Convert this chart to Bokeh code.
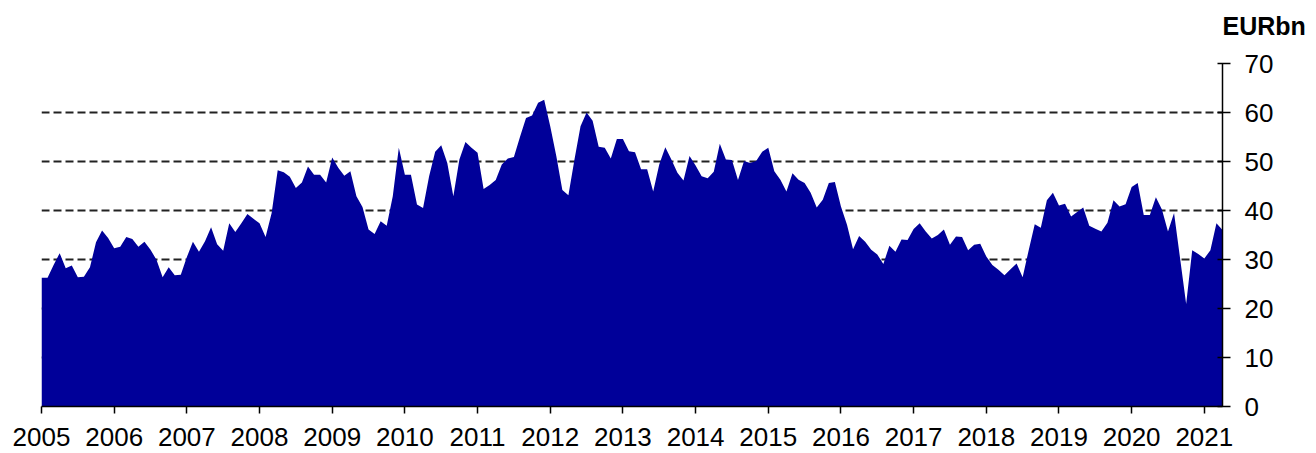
from bokeh.plotting import figure
from bokeh.models import Range1d, FixedTicker, Title
from bokeh.embed import file_html
from bokeh.resources import INLINE

# Monthly values, EUR bn, Jan 2005 - Apr 2021
vals_2005_2007 = [26.3, 26.3, 28.9, 31.3, 28.2, 28.8, 26.4, 26.5, 28.4, 33.5, 35.9, 34.4,
                  32.3, 32.6, 34.6, 34.2, 32.6, 33.6, 32.0, 29.9, 26.4, 28.4, 26.8, 26.9,
                  30.5, 33.6, 31.6, 33.7, 36.6, 33.1, 31.8, 37.4, 35.6, 37.4, 39.3, 38.3]
vals_2008_2010 = [37.4, 34.6, 39.5, 48.2, 47.8, 46.9, 44.6, 45.7, 49.0, 47.3, 47.3, 45.7,
                  50.8, 48.7, 47.1, 48.0, 42.9, 40.7, 36.1, 35.2, 37.8, 36.9, 42.9, 52.8,
                  47.3, 47.3, 41.2, 40.5, 47.0, 52.0, 53.3, 49.7, 42.9, 50.4, 54.0, 52.8]
vals_2011_2013 = [51.8, 44.4, 45.2, 46.2, 49.4, 50.6, 50.9, 55.0, 58.9, 59.4, 62.0, 62.6,
                  57.2, 51.1, 44.2, 43.1, 50.4, 57.2, 60.0, 58.3, 53.0, 52.8, 50.6, 54.6,
                  54.6, 52.1, 51.9, 48.4, 48.4, 43.9, 49.4, 52.9, 50.4, 47.7, 46.1, 51.1]
vals_2014_2016 = [49.2, 47.0, 46.6, 47.9, 53.6, 50.4, 50.3, 46.2, 50.1, 49.7, 50.1, 52.0,
                  52.8, 48.0, 46.3, 43.9, 47.6, 46.3, 45.6, 43.6, 40.6, 42.2, 45.6, 45.8,
                  40.8, 37.1, 32.1, 34.8, 33.6, 32.0, 31.0, 29.1, 32.8, 31.6, 34.1, 34.0]
vals_2017_2019 = [36.2, 37.4, 35.7, 34.3, 35.0, 36.1, 33.0, 34.7, 34.6, 31.9, 33.0, 33.2,
                  30.6, 28.9, 27.9, 26.8, 28.0, 29.2, 26.4, 31.9, 37.2, 36.5, 42.1, 43.6,
                  41.0, 41.4, 38.8, 39.7, 40.6, 36.9, 36.3, 35.7, 37.5, 42.1, 40.8, 41.3]
vals_2020_2021 = [44.8, 45.6, 39.1, 39.1, 42.7, 40.2, 35.7, 39.5, 30.2, 20.9, 31.9, 31.1,
                  30.2, 31.9, 37.4, 36.0]

values = vals_2005_2007 + vals_2008_2010 + vals_2011_2013 + vals_2014_2016 + vals_2017_2019 + vals_2020_2021
start_year = 2005
dates = [start_year + i / 12 for i in range(len(values))]

year_ticks = list(range(2005, 2022))
year_labels = [str(y) for y in year_ticks]
y_ticks = [0, 10, 20, 30, 40, 50, 60, 70]
unit_label = "EURbn"

FONT = "Liberation Sans"

p = figure(width=1308, height=453,
           x_range=Range1d(dates[0], dates[-1]), y_range=Range1d(0, 70),
           output_backend="svg", toolbar_location=None,
           x_axis_location="below", y_axis_location="right")
p.min_border_left = 41
p.min_border_right = 86
p.min_border_top = 63
p.min_border_bottom = 47
p.outline_line_color = None
p.background_fill_color = "white"
p.border_fill_color = "white"

p.varea(x=dates, y1=0, y2=values, fill_color="#000099", fill_alpha=1.0)

# grid
p.xgrid.grid_line_color = None
p.ygrid.ticker = FixedTicker(ticks=y_ticks[1:])
p.ygrid.grid_line_color = "#222222"
p.ygrid.grid_line_width = 1.8
p.ygrid.grid_line_dash = "8 4"

# x axis
xa = p.xaxis[0]
xa.ticker = FixedTicker(ticks=year_ticks)
xa.major_label_overrides = {y: lab for y, lab in zip(year_ticks, year_labels)}
xa.axis_line_color = "black"
xa.axis_line_width = 1.5
xa.major_tick_line_color = "black"
xa.major_tick_line_width = 1.5
xa.major_tick_in = 0
xa.major_tick_out = 7
xa.minor_tick_line_color = None
xa.major_label_standoff = 14
xa.major_label_text_font = FONT
xa.major_label_text_font_size = "26px"
xa.major_label_text_color = "black"

# y axis (right)
ya = p.yaxis[0]
ya.ticker = FixedTicker(ticks=y_ticks)
ya.axis_line_color = "black"
ya.axis_line_width = 1.5
ya.major_tick_line_color = "black"
ya.major_tick_line_width = 1.5
ya.major_tick_in = 5
ya.major_tick_out = 8
ya.minor_tick_line_color = None
ya.major_label_standoff = 14
ya.major_label_text_font = FONT
ya.major_label_text_font_size = "26px"
ya.major_label_text_color = "black"

# spacer between frame and unit label
spacer = Title(text=" ", standoff=0, text_font=FONT, text_font_size="16px")
p.add_layout(spacer, "above")

unit_title = Title(text=unit_label, align="left", offset=1181, vertical_align="bottom",
                   standoff=10, text_font=FONT, text_font_style="bold",
                   text_font_size="25px", text_color="black")
p.add_layout(unit_title, "above")

open("out.html", "w").write(file_html(p, INLINE))
